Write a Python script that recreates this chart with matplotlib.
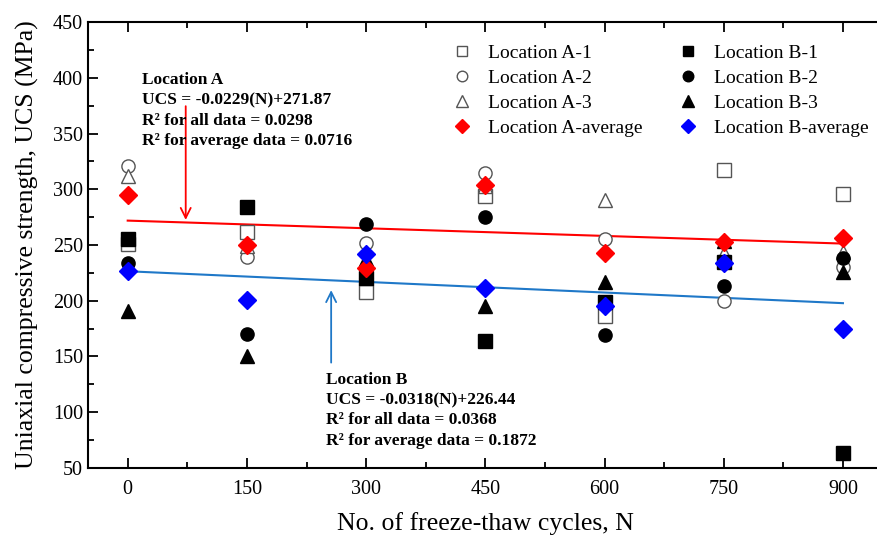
import matplotlib
matplotlib.use("Agg")
import matplotlib.pyplot as plt
import numpy as np

plt.rcParams['font.family'] = ['Liberation Serif', 'DejaVu Serif']

# freeze-thaw cycles
cycles = [0, 150, 300, 450, 600, 750, 900]

# Location A
a1 = [251, 262, 208, 294, 186, 317, 296]
a2 = [321, 239, 252, 315, 255, 200, 230]
a3 = [312, 249, 227, 303, 290, 243, 244]
a_avg = [295, 250, 229, 304, 243, 253, 256]

# Location B
b1 = [255, 284, 220, 164, 199, 235, 63]
b2 = [234, 170, 269, 275, 169, 213, 238]
b3 = [191, 150, 237, 195, 217, 254, 226]
b_avg = [227, 201, 242, 211, 195, 234, 175]

# linear fits
fit_a = (-0.0229, 271.87)
fit_b = (-0.0318, 226.44)

fig = plt.figure(figsize=(8.77, 5.41), dpi=100)
ax = fig.add_axes([0.1003, 0.135, 0.9062, 0.8243])

grey = '#555555'
ms = 9.5
ax.plot(cycles, a1, 's', mfc='white', mec=grey, ms=ms, mew=1.0, label='Location A-1', zorder=3)
ax.plot(cycles, a2, 'o', mfc='white', mec=grey, ms=ms, mew=1.0, label='Location A-2', zorder=3)
ax.plot(cycles, a3, '^', mfc='white', mec=grey, ms=ms + 1, mew=1.0, label='Location A-3', zorder=3)
ax.plot(cycles, a_avg, 'D', color='#ff0000', ms=ms - 0.5, label='Location A-average', zorder=4)
ax.plot(cycles, b1, 's', color='black', ms=ms, label='Location B-1', zorder=3)
ax.plot(cycles, b2, 'o', color='black', ms=ms, label='Location B-2', zorder=3)
ax.plot(cycles, b3, '^', color='black', ms=ms + 1, label='Location B-3', zorder=3)
ax.plot(cycles, b_avg, 'D', color='#0000ff', ms=ms - 0.5, label='Location B-average', zorder=4)

xfit = np.array([cycles[0], cycles[-1]])
ax.plot(xfit, fit_a[0] * xfit + fit_a[1], color='#ff0000', lw=1.5, zorder=2)
ax.plot(xfit, fit_b[0] * xfit + fit_b[1], color='#1f78c8', lw=1.5, zorder=2)

# arrows pointing at fit lines
ax.annotate('', xy=(73, 270), xytext=(73, 377),
            arrowprops=dict(arrowstyle='->', color='#ff0000', lw=1.3, mutation_scale=18))
ax.annotate('', xy=(256, 212), xytext=(256, 142),
            arrowprops=dict(arrowstyle='->', color='#1f78c8', lw=1.3, mutation_scale=18))

txt_a = ('Location A\nUCS = -0.0229(N)+271.87\n'
         'R\u00b2 for all data = 0.0298\nR\u00b2 for average data = 0.0716')
txt_b = ('Location B\nUCS = -0.0318(N)+226.44\n'
         'R\u00b2 for all data = 0.0368\nR\u00b2 for average data = 0.1872')
ax.text(18, 405, txt_a, fontsize=12.5, fontweight='bold', va='top', ha='left', linespacing=1.35)
ax.text(249, 136, txt_b, fontsize=12.5, fontweight='bold', va='top', ha='left', linespacing=1.35)

ax.set_xlim(-50, 950)
ax.set_ylim(50, 450)
ax.set_xticks(cycles)
ax.set_xticks(np.arange(75, 950, 150), minor=True)
ax.set_yticks(np.arange(50, 451, 50))
ax.set_yticks(np.arange(75, 450, 50), minor=True)
ax.tick_params(which='both', direction='in', top=True, right=False, labelsize=14.5, width=1.3)
ax.tick_params(which='major', length=7)
ax.tick_params(which='minor', length=4)
ax.tick_params(axis='x', which='major', pad=9)
for s in ax.spines.values():
    s.set_linewidth(1.5)

ax.set_xlabel('No. of freeze-thaw cycles, N', fontsize=18.5, labelpad=9)
ax.set_ylabel('Uniaxial compressive strength, UCS (MPa)', fontsize=18.5, labelpad=10)

ax.legend(ncol=2, loc='upper left', bbox_to_anchor=(0.43, 0.99), frameon=False,
          fontsize=14, handletextpad=0.6, columnspacing=1.6, labelspacing=0.38,
          handlelength=1.5, markerscale=0.8)

plt.savefig('out.png', dpi=100)
